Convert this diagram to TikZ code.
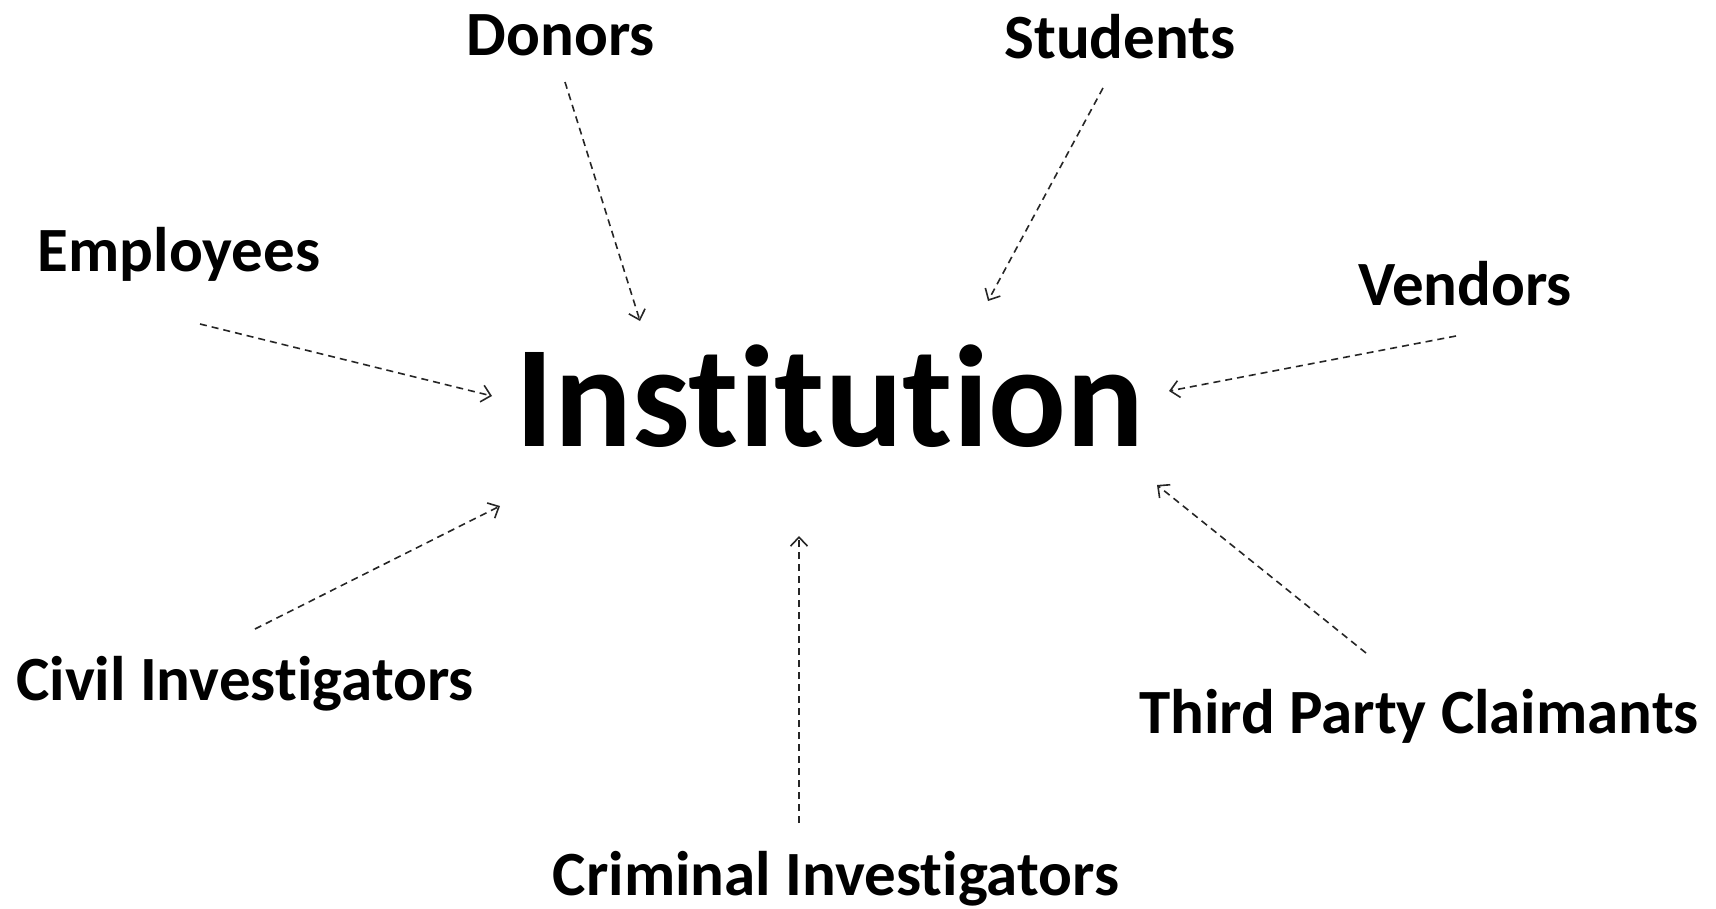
\documentclass[tikz,border=0pt]{standalone}
\usepackage{fontspec}
\setmainfont{Carlito}[Ligatures={NoCommon}]
\usetikzlibrary{arrows.meta}
\begin{document}
\begin{tikzpicture}[x=1pt,y=-1pt,
  lbl/.style={anchor=base,inner sep=0pt,font=\bfseries\fontsize{63}{72}\selectfont},
  big/.style={anchor=base,inner sep=0pt,font=\bfseries\fontsize{145}{170}\selectfont},
  arr/.style={draw=black!85,line width=1.6pt,dash pattern=on 7pt off 5pt,
    -{Straight Barb[length=9pt,width=17pt,line width=1.6pt]}}]
\useasboundingbox (0,0) rectangle (1716,908);
\node[big] (inst) at (830,446) {Institution};
\node[lbl] (donors) at (561,55) {Donors};
\node[lbl] (students) at (1120,58) {Students};
\node[lbl] (employees) at (179,271) {Employees};
\node[lbl] (vendors) at (1465,305) {Vendors};
\node[lbl] (civil) at (245,700) {Civil Investigators};
\node[lbl] (third) at (1419,733) {Third Party Claimants};
\node[lbl] (criminal) at (836,895) {Criminal Investigators};
\coordinate (dS) at (565,82);   \coordinate (dE) at (640,321);
\coordinate (sS) at (1103,88);  \coordinate (sE) at (988,301);
\coordinate (eS) at (200,324);  \coordinate (eE) at (492,396);
\coordinate (vS) at (1456,336); \coordinate (vE) at (1169,391);
\coordinate (cS) at (255,629);  \coordinate (cE) at (500,506);
\coordinate (kS) at (799,823);  \coordinate (kE) at (799,536);
\coordinate (tS) at (1366,653); \coordinate (tE) at (1157,485);
\draw[arr] (dS) -- (dE);
\draw[arr] (sS) -- (sE);
\draw[arr] (eS) -- (eE);
\draw[arr] (vS) -- (vE);
\draw[arr] (cS) -- (cE);
\draw[arr] (kS) -- (kE);
\draw[arr] (tS) -- (tE);
\end{tikzpicture}
\end{document}
